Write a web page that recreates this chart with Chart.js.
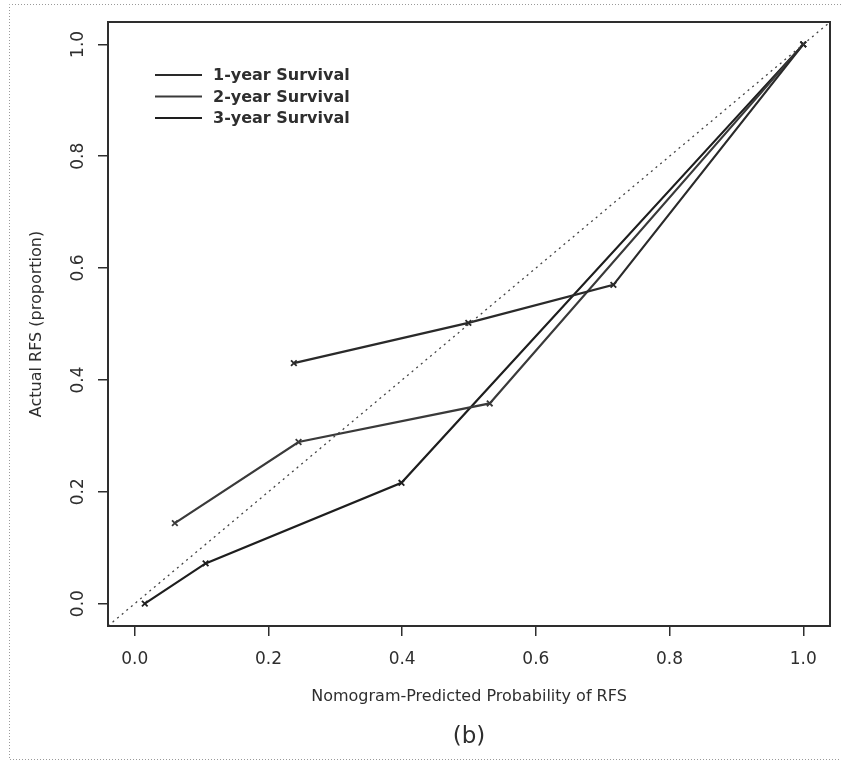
<!DOCTYPE html>
<html>
<head>
<meta charset="utf-8">
<title>Calibration curve (b)</title>
<script src="https://cdn.jsdelivr.net/npm/chart.js@4.4.0/dist/chart.umd.min.js"></script>
<style>
  html, body { margin: 0; padding: 0; background: #fff; }
  #wrap { width: 841px; height: 765px; }
</style>
</head>
<body>
<div id="wrap"><canvas id="chartCalib" width="841" height="765"></canvas></div>
<script>
/* ============================================
   Calibration plot (b) - Chart.js scatter + lines
   ============================================ */

// ---------- data ----------
const SERIES_LABELS = ['1-year Survival', '2-year Survival', '3-year Survival'];

const PRED_1Y = [0.238, 0.499, 0.716, 1.0];
const OBS_1Y  = [0.430, 0.502, 0.570, 1.0];

const PRED_2Y = [0.060, 0.245, 0.531, 1.0];
const OBS_2Y  = [0.144, 0.289, 0.358, 1.0];

const PRED_3Y = [0.015, 0.106, 0.399, 1.0];
const OBS_3Y  = [0.000, 0.072, 0.216, 1.0];

const TICKS      = [0.0, 0.2, 0.4, 0.6, 0.8, 1.0];
const AXIS_RANGE = [-0.04, 1.04];

const X_TITLE = 'Nomogram-Predicted Probability of RFS';
const Y_TITLE = 'Actual RFS (proportion)';
const PANEL   = '(b)';

// ---------- look ----------
const FONT  = 'DejaVu Sans';
const INK   = '#2e2e2e';
const LINE_COLORS = ['#2a2a2a', '#3a3a3a', '#1e1e1e'];

const pts = (xs, ys) => xs.map((x, i) => ({ x, y: ys[i] }));

/* ---------- frame, box, legend, panel letter ---------- */
const decorPlugin = {
  id: 'decor',
  afterDraw(chart) {
    const { ctx, chartArea: a } = chart;
    ctx.save();

    // dotted page frame (top, left, bottom)
    ctx.strokeStyle = '#9a9a9a';
    ctx.lineWidth = 1;
    ctx.setLineDash([1, 2]);
    ctx.beginPath();
    ctx.moveTo(841, 4.5); ctx.lineTo(9.5, 4.5); ctx.lineTo(9.5, 759.5); ctx.lineTo(841, 759.5);
    ctx.stroke();
    ctx.setLineDash([]);

    // plot box
    ctx.strokeStyle = INK;
    ctx.lineWidth = 2;
    ctx.strokeRect(a.left, a.top, a.right - a.left, a.bottom - a.top);

    // legend
    const series = chart.data.datasets.filter(d => SERIES_LABELS.includes(d.label));
    ctx.font = 'bold 16px "' + FONT + '"';
    ctx.textBaseline = 'middle';
    ctx.textAlign = 'left';
    series.forEach((d, i) => {
      const y = a.top + 53 + i * 21.5;
      ctx.strokeStyle = d.borderColor;
      ctx.lineWidth = 2;
      ctx.beginPath();
      ctx.moveTo(a.left + 47, y);
      ctx.lineTo(a.left + 94, y);
      ctx.stroke();
      ctx.fillStyle = INK;
      ctx.fillText(d.label, a.left + 105, y + 1);
    });

    // panel letter
    ctx.font = '23px "' + FONT + '"';
    ctx.textAlign = 'center';
    ctx.fillStyle = INK;
    ctx.fillText(PANEL, (a.left + a.right) / 2, 737);

    ctx.restore();
  }
};

/* ---------- chart ---------- */
function seriesDataset(label, xs, ys, color) {
  return {
    label,
    data: pts(xs, ys),
    showLine: true,
    borderColor: color,
    backgroundColor: color,
    borderWidth: 2.2,
    pointStyle: 'crossRot',
    pointRadius: 4,
    pointBorderWidth: 1.8,
    tension: 0
  };
}

function axis(title, isY) {
  return {
    type: 'linear',
    min: AXIS_RANGE[0],
    max: AXIS_RANGE[1],
    afterBuildTicks: s => { s.ticks = TICKS.map(v => ({ value: v })); },
    afterFit: s => { if (isY) s.width = 88; else s.height = 80; },
    border: { display: false },
    grid: { drawOnChartArea: false, drawTicks: true, tickLength: 10, color: INK, lineWidth: 1.5 },
    ticks: Object.assign(
      { color: INK, font: { family: FONT, size: 17 }, callback: v => v.toFixed(1) },
      isY ? { minRotation: 90, maxRotation: 90, crossAlign: 'center', padding: 6 } : { padding: 13, maxRotation: 0 }
    ),
    title: {
      display: true,
      text: title,
      color: INK,
      font: { family: FONT, size: 16 },
      padding: isY ? { top: 7 } : { bottom: 0 }
    }
  };
}

new Chart(document.getElementById('chartCalib'), {
  type: 'scatter',
  data: {
    datasets: [
      {
        label: 'Ideal',
        data: pts(AXIS_RANGE, AXIS_RANGE),
        showLine: true,
        borderColor: '#444',
        borderWidth: 1.3,
        borderDash: [2, 4],
        pointRadius: 0
      },
      seriesDataset(SERIES_LABELS[0], PRED_1Y, OBS_1Y, LINE_COLORS[0]),
      seriesDataset(SERIES_LABELS[1], PRED_2Y, OBS_2Y, LINE_COLORS[1]),
      seriesDataset(SERIES_LABELS[2], PRED_3Y, OBS_3Y, LINE_COLORS[2])
    ]
  },
  options: {
    responsive: false,
    devicePixelRatio: 1,
    animation: false,
    layout: { padding: { left: 20, top: 22, right: 11, bottom: 59 } },
    plugins: {
      legend: { display: false },
      tooltip: { enabled: false }
    },
    scales: {
      x: axis(X_TITLE, false),
      y: axis(Y_TITLE, true)
    }
  },
  plugins: [decorPlugin]
});
</script>
</body>
</html>
